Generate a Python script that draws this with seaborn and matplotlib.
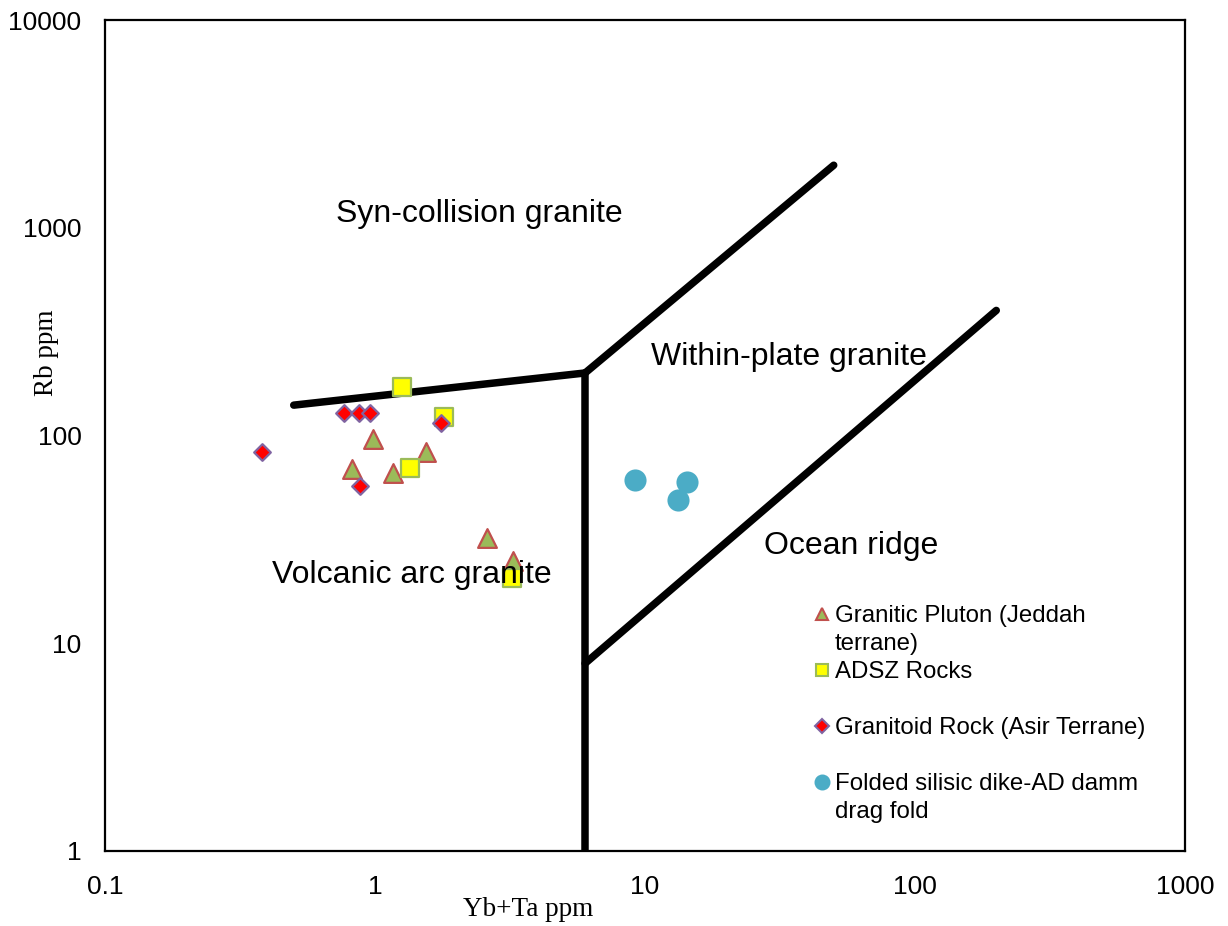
import matplotlib
matplotlib.use("Agg")
import matplotlib.pyplot as plt
from matplotlib.lines import Line2D
import seaborn as sns
import pandas as pd

# Sample compositions (Yb+Ta vs Rb, ppm)
pluton_x = [0.98, 0.82, 1.17, 1.54, 2.61, 3.25]
pluton_y = [96, 69, 66, 83, 32, 25]

adsz_x = [1.26, 1.80, 1.35, 3.23]
adsz_y = [171, 123, 70, 20.5]

asir_x = [0.38, 0.77, 0.87, 0.96, 1.75, 0.88]
asir_y = [83, 128, 128, 128, 115, 57]

dike_x = [9.2, 14.3, 13.2]
dike_y = [61, 60, 49]

# Discrimination field boundaries (Pearce et al. 1984)
bound_syn_vag_x = [0.5, 6]
bound_syn_vag_y = [140, 200]
bound_syn_wpg_x = [6, 50]
bound_syn_wpg_y = [200, 2000]
bound_vag_wpg_x = [6, 6]
bound_vag_wpg_y = [1, 200]
bound_wpg_orh_x = [6, 200]
bound_wpg_orh_y = [8, 400]

series = [
    ("Granitic Pluton (Jeddah", "terrane)", pluton_x, pluton_y, "^", 182, "#9BBB59", "#C0504D", 9),
    ("ADSZ Rocks", " ", adsz_x, adsz_y, "s", 185, "#FFFF00", "#9BBB59", 9),
    ("Granitoid Rock (Asir Terrane)", " ", asir_x, asir_y, "D", 72, "#FF0000", "#8064A2", 7),
    ("Folded silisic dike-AD damm", "drag fold", dike_x, dike_y, "o", 205, "#4BACC6", "#4BACC6", 10),
]

sns.set_theme(style="white")
plt.rcParams["font.family"] = ["Liberation Sans", "DejaVu Sans"]
plt.rcParams["text.color"] = "black"
plt.rcParams["axes.labelcolor"] = "black"

fig = plt.figure(figsize=(12.28, 9.26), dpi=100)
ax = fig.add_axes([105 / 1228, 75 / 926, 1080 / 1228, 831 / 926])

for bx, by in [(bound_syn_vag_x, bound_syn_vag_y), (bound_syn_wpg_x, bound_syn_wpg_y),
               (bound_vag_wpg_x, bound_vag_wpg_y), (bound_wpg_orh_x, bound_wpg_orh_y)]:
    sns.lineplot(x=bx, y=by, ax=ax, color="black", linewidth=5.4, sort=False,
                 estimator=None, solid_capstyle="round", zorder=2)

for name, _, xs, ys, mk, sz, fc, ec, _ms in series:
    df = pd.DataFrame({"x": xs, "y": ys})
    sns.scatterplot(data=df, x="x", y="y", ax=ax, marker=mk, s=sz, color=fc,
                    edgecolor=ec, linewidth=1.6, zorder=3, legend=False)

ax.set_xscale("log")
ax.set_yscale("log")
ax.set_xlim(0.1, 1000)
ax.set_ylim(1, 10000)
ax.set_xticks([0.1, 1, 10, 100, 1000])
ax.set_xticklabels(["0.1", "1", "10", "100", "1000"])
ax.set_yticks([1, 10, 100, 1000, 10000])
ax.set_yticklabels(["1", "10", "100", "1000", "10000"])
ax.minorticks_off()
ax.tick_params(axis="both", which="major", direction="out", length=6, width=1,
               color="#707070", labelsize=19, pad=11, labelcolor="black")
ax.tick_params(axis="both", which="minor", length=0)

for sp in ax.spines.values():
    sp.set_color("black")
    sp.set_linewidth(1.6)
    sp.set_visible(True)

ax.set_xlabel("Yb+Ta ppm", fontsize=19.5, family=["Liberation Serif"])
ax.set_ylabel("Rb ppm", fontsize=19.5, family=["Liberation Serif"])
ax.xaxis.set_label_coords(0.392, -0.055)
ax.yaxis.set_label_coords(-0.043, 0.60)

field_fs = 23
ax.text(2.43, 1165, "Syn-collision granite", fontsize=field_fs, ha="center", va="center", zorder=5)
ax.text(34.1, 239, "Within-plate granite", fontsize=field_fs, ha="center", va="center", zorder=5)
ax.text(58, 29.5, "Ocean ridge", fontsize=field_fs, ha="center", va="center", zorder=5)
ax.text(1.365, 21.3, "Volcanic arc granite", fontsize=field_fs, ha="center", va="center", zorder=5)

# Legend: each entry takes two rows, the second row carries the wrapped text
handles, labels = [], []
for name, cont, xs, ys, mk, sz, fc, ec, ms in series:
    handles.append(Line2D([], [], linestyle="none", marker=mk, markersize=ms,
                          markerfacecolor=fc, markeredgecolor=ec, markeredgewidth=1.5))
    labels.append(name)
    handles.append(Line2D([], [], linestyle="none", marker=None))
    labels.append(cont)

leg = ax.legend(handles, labels, loc="upper left", bbox_to_anchor=(0.657, 0.296),
                frameon=False, fontsize=17.3, handlelength=0.6, handletextpad=0.23,
                labelspacing=0.25, borderpad=0, borderaxespad=0)

fig.savefig("out.png", dpi=100, facecolor="white")
